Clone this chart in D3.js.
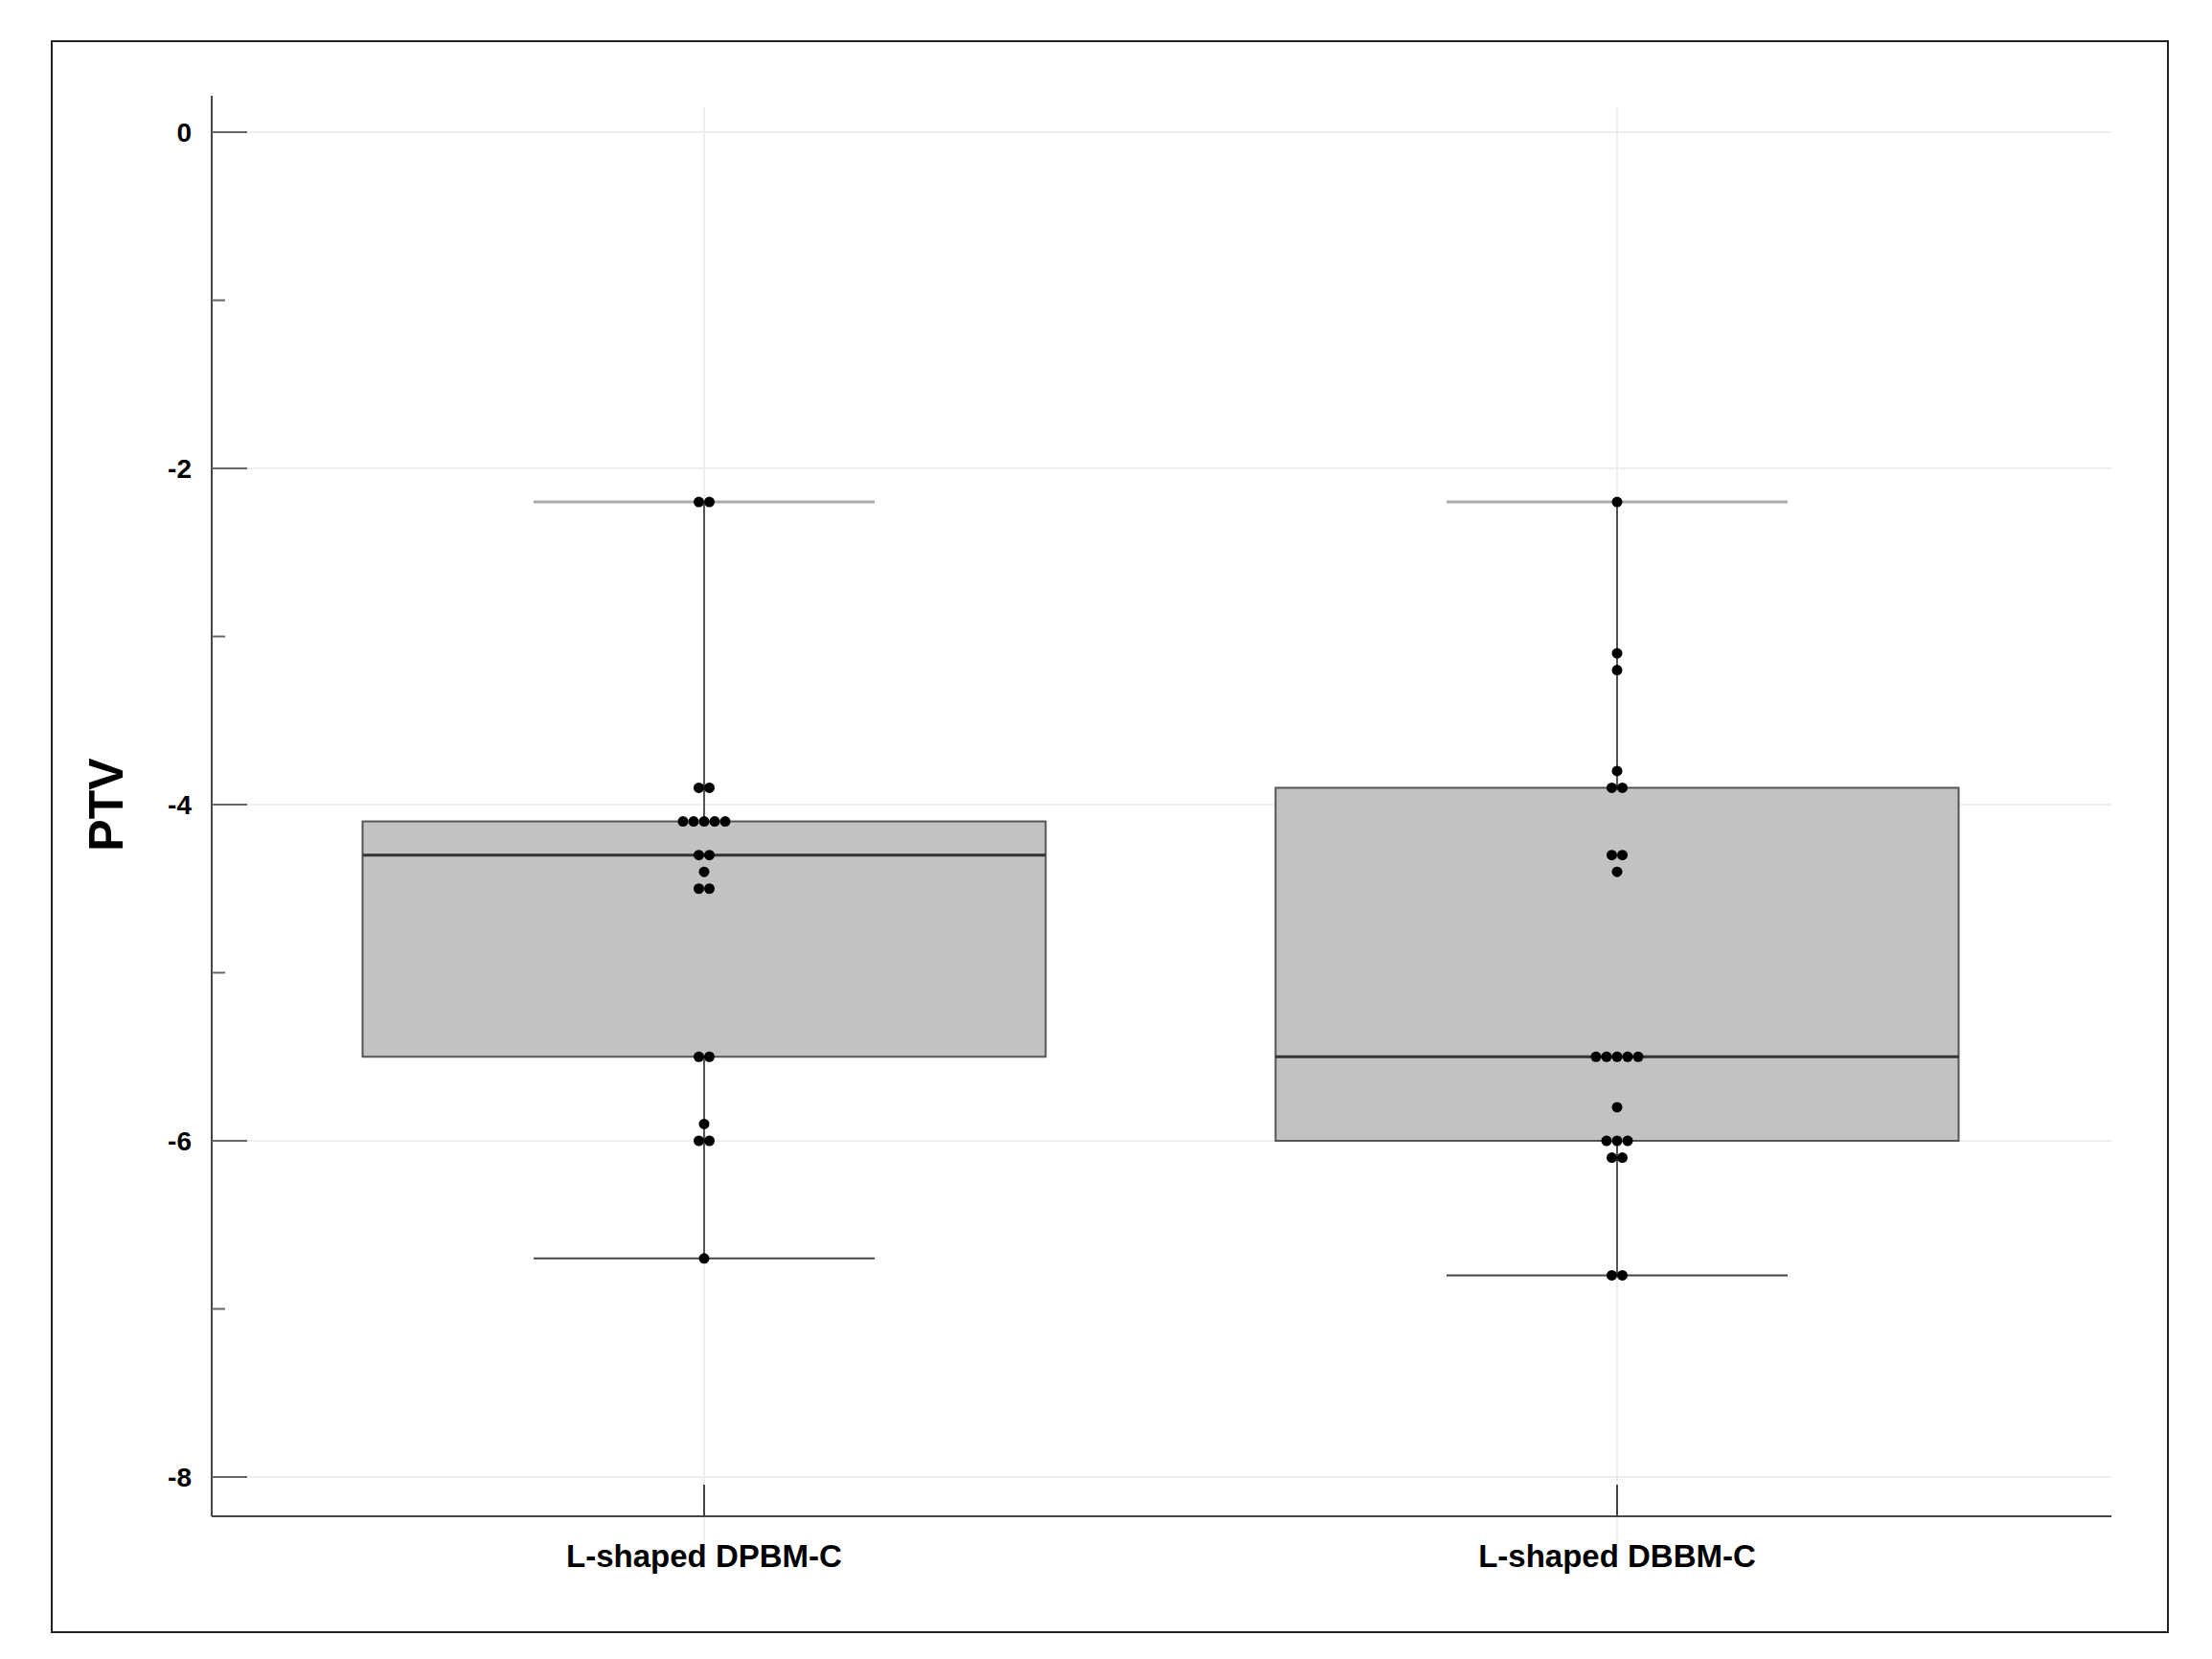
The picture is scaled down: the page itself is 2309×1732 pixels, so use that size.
<!DOCTYPE html><html><head><script src="https://cdn.jsdelivr.net/npm/d3@7"></script>
<style>body{margin:0;background:#fff}</style></head><body><svg id="c" width="2309" height="1732"></svg><script>
const categories=["L-shaped DPBM-C","L-shaped DBBM-C"];
const yTicks=[0,-2,-4,-6,-8];
const whiskerHigh=[-2.2,-2.2];
const q3=[-4.1,-3.9];
const median=[-4.3,-5.5];
const q1=[-5.5,-6.0];
const whiskerLow=[-6.7,-6.8];
const points1=[-2.2,-2.2,-3.9,-3.9,-4.1,-4.1,-4.1,-4.1,-4.1,-4.3,-4.3,-4.4,-4.5,-4.5,-5.5,-5.5,-5.9,-6.0,-6.0,-6.7];
const points2=[-2.2,-3.1,-3.2,-3.8,-3.9,-3.9,-4.3,-4.3,-4.4,-5.5,-5.5,-5.5,-5.5,-5.5,-5.8,-6.0,-6.0,-6.0,-6.1,-6.1,-6.8,-6.8];
const pts=[points1,points2];
const svg=d3.select("#c");
svg.append("rect").attr("x",54).attr("y",43).attr("width",2209).attr("height",1661).attr("fill","none").attr("stroke","#222").attr("stroke-width",2);
const x=d3.scaleBand().domain(categories).range([258.5,2164.5]).padding(0);
const y=d3.scaleLinear().domain([-8,0]).range([1542,138]);
const yLo=y(-8.45), yHi=y(0.15);
const g=svg.append("g");
yTicks.forEach(t=>g.append("line").attr("x1",221).attr("x2",2204).attr("y1",y(t)).attr("y2",y(t)).attr("stroke","#eee").attr("stroke-width",2));
categories.forEach(c=>g.append("line").attr("x1",x(c)+x.bandwidth()/2).attr("x2",x(c)+x.bandwidth()/2).attr("y1",yHi).attr("y2",yLo).attr("stroke","#eee").attr("stroke-width",2));
svg.append("line").attr("x1",221).attr("x2",221).attr("y1",100).attr("y2",1583).attr("stroke","#444").attr("stroke-width",2);
svg.append("line").attr("x1",221).attr("x2",2204).attr("y1",1583).attr("y2",1583).attr("stroke","#444").attr("stroke-width",2);
d3.range(-8,0.1,1).forEach(t=>{const long=yTicks.includes(t);svg.append("line").attr("x1",221).attr("x2",long?258:235).attr("y1",y(t)).attr("y2",y(t)).attr("stroke","#666").attr("stroke-width",2);});
yTicks.forEach(t=>svg.append("text").attr("x",200).attr("y",y(t)).attr("dy","0.35em").attr("text-anchor","end").attr("font-family","Liberation Sans, Arial").attr("font-weight","bold").attr("font-size",28).text(t));
categories.forEach(c=>{const cx=x(c)+x.bandwidth()/2;
svg.append("line").attr("x1",cx).attr("x2",cx).attr("y1",1550).attr("y2",1583).attr("stroke","#444").attr("stroke-width",2);
svg.append("text").attr("x",cx).attr("y",1636).attr("text-anchor","middle").attr("font-family","Liberation Sans, Arial").attr("font-weight","bold").attr("font-size",33).text(c);});
svg.append("text").attr("transform","translate(128,"+y(-4)+") rotate(-90)").attr("text-anchor","middle").attr("font-family","Liberation Sans, Arial").attr("font-weight","bold").attr("font-size",50).text("PTV");
const bw=713, cw=356;
categories.forEach((c,i)=>{const cx=x(c)+x.bandwidth()/2;
g.append("line").attr("x1",cx).attr("x2",cx).attr("y1",y(whiskerHigh[i])).attr("y2",y(whiskerLow[i])).attr("stroke","#555").attr("stroke-width",2);
g.append("rect").attr("x",cx-bw/2).attr("width",bw).attr("y",y(q3[i])).attr("height",y(q1[i])-y(q3[i])).attr("fill","#c2c2c2").attr("stroke","#555").attr("stroke-width",2);
g.append("line").attr("x1",cx-bw/2).attr("x2",cx+bw/2).attr("y1",y(median[i])).attr("y2",y(median[i])).attr("stroke","#333").attr("stroke-width",3);
g.append("line").attr("x1",cx-cw/2).attr("x2",cx+cw/2).attr("y1",y(whiskerHigh[i])).attr("y2",y(whiskerHigh[i])).attr("stroke","#aaa").attr("stroke-width",3);
g.append("line").attr("x1",cx-cw/2).attr("x2",cx+cw/2).attr("y1",y(whiskerLow[i])).attr("y2",y(whiskerLow[i])).attr("stroke","#444").attr("stroke-width",2);
const counts=d3.rollup(pts[i],v=>v.length,d=>d);
counts.forEach((n,v)=>{for(let k=0;k<n;k++){g.append("circle").attr("cx",cx+(k-(n-1)/2)*11).attr("cy",y(v)).attr("r",5.5).attr("fill","#000");}});
});
</script></body></html>
